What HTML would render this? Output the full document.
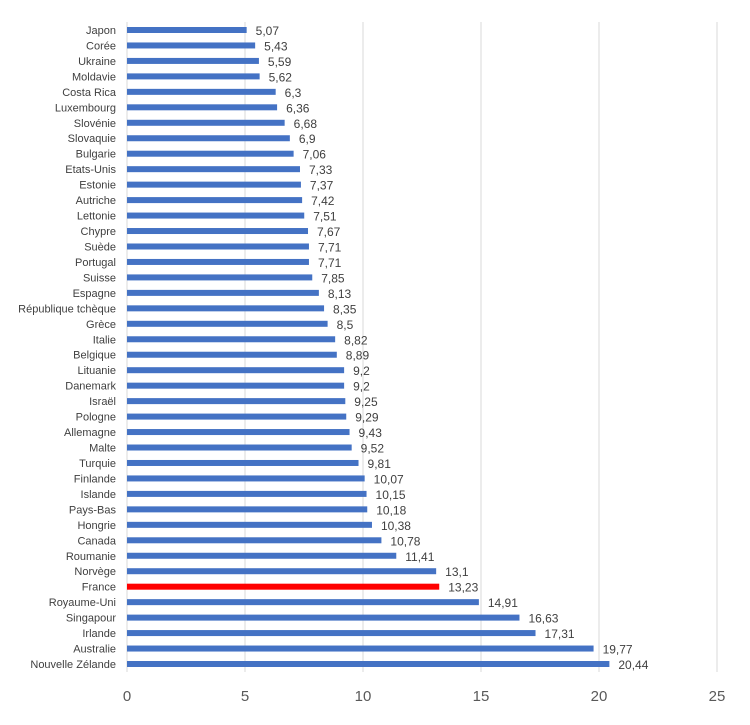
<!DOCTYPE html>
<html><head><meta charset="utf-8"><style>
body{margin:0;background:#fff;}
svg{font-family:"Liberation Sans",sans-serif;}
</style></head><body>
<svg id="chart" width="750" height="720"></svg>
<script>
const categories=["Japon","Corée","Ukraine","Moldavie","Costa Rica","Luxembourg","Slovénie","Slovaquie","Bulgarie","Etats-Unis","Estonie","Autriche","Lettonie","Chypre","Suède","Portugal","Suisse","Espagne","République tchèque","Grèce","Italie","Belgique","Lituanie","Danemark","Israël","Pologne","Allemagne","Malte","Turquie","Finlande","Islande","Pays-Bas","Hongrie","Canada","Roumanie","Norvège","France","Royaume-Uni","Singapour","Irlande","Australie","Nouvelle Zélande"];
const values=[5.07,5.43,5.59,5.62,6.3,6.36,6.68,6.9,7.06,7.33,7.37,7.42,7.51,7.67,7.71,7.71,7.85,8.13,8.35,8.5,8.82,8.89,9.2,9.2,9.25,9.29,9.43,9.52,9.81,10.07,10.15,10.18,10.38,10.78,11.41,13.1,13.23,14.91,16.63,17.31,19.77,20.44];
const valueLabels=["5,07","5,43","5,59","5,62","6,3","6,36","6,68","6,9","7,06","7,33","7,37","7,42","7,51","7,67","7,71","7,71","7,85","8,13","8,35","8,5","8,82","8,89","9,2","9,2","9,25","9,29","9,43","9,52","9,81","10,07","10,15","10,18","10,38","10,78","11,41","13,1","13,23","14,91","16,63","17,31","19,77","20,44"];
const ticks=[0,5,10,15,20,25];
const highlight="France";
const svg=document.getElementById('chart');
const NS="http://www.w3.org/2000/svg";
const x=v=>127+v*23.6;
const y=i=>30+i*(634/(categories.length-1));
function mk(t,a){const e=document.createElementNS(NS,t);for(const k in a)e.setAttribute(k,a[k]);svg.appendChild(e);return e;}
ticks.forEach(t=>{
 if(t>0){const g=mk('line',{x1:x(t),x2:x(t),y1:22,y2:672,stroke:'#d9d9d9','stroke-width':1});
 
 }
 const l=mk('text',{x:x(t),y:701,'text-anchor':'middle','font-size':15,fill:'#595959'});l.textContent=t;
 
 
});
const ax=mk('line',{x1:x(0),x2:x(0),y1:22,y2:672,stroke:'#d9d9d9'});


categories.forEach((c,i)=>{
 const cy=y(i);
 const b=mk('rect',{x:x(0),y:cy-3,width:x(values[i])-x(0),height:6,fill:c===highlight?'#ff0000':'#4472c4'});
 
 
 const t=mk('text',{x:116,y:cy+4,'text-anchor':'end','font-size':11,fill:'#404040'});t.textContent=c;
 
 
 const v=mk('text',{x:x(values[i])+9,y:cy+5,'font-size':12,fill:'#404040'});v.textContent=valueLabels[i];
 
 
});
</script>
</body></html>
